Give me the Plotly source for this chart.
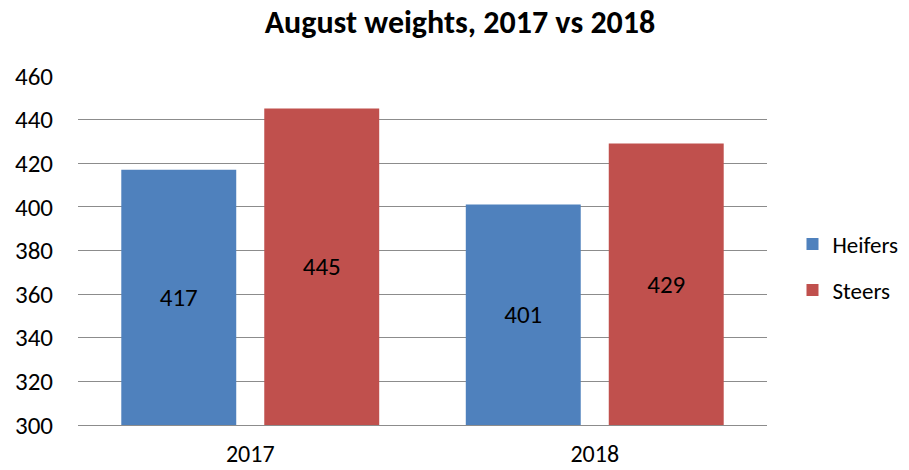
import plotly.graph_objects as go

years = ["2017", "2018"]
heifers = [417, 401]
steers = [445, 429]
y_ticks = [300, 320, 340, 360, 380, 400, 420, 440, 460]
axis_min = 300

font_family = "Carlito, Calibri, Lato, sans-serif"
fs = 25

fig = go.Figure()
for name, vals, color, grp in [("Heifers", heifers, "#4F81BD", "a"),
                               ("Steers", steers, "#C0504D", "b")]:
    fig.add_trace(go.Bar(
        x=years, y=[v - axis_min for v in vals], base=axis_min, name=name,
        marker_color=color, marker_line_width=0,
        text=[str(v) for v in vals], textposition="inside",
        insidetextanchor="middle",
        textfont=dict(color="black", size=fs, family=font_family),
        legendgroup=grp, hoverinfo="skip",
    ))

fig.update_layout(
    width=909, height=470,
    paper_bgcolor="white", plot_bgcolor="white",
    margin=dict(l=78, r=142, t=75, b=45, autoexpand=False),
    title=dict(text="<b>August weights, 2017 vs 2018</b>", x=0.506, xanchor="center",
               y=0.953, yanchor="middle",
               font=dict(size=32, color="black", family=font_family)),
    font=dict(family=font_family, size=fs, color="black"),
    barmode="group", bargap=0.17, bargroupgap=0.196,
    showlegend=True,
    legend=dict(x=1.037, y=0.451, xanchor="left", yanchor="middle",
                font=dict(size=23, color="black", family=font_family),
                tracegroupgap=13, bgcolor="rgba(0,0,0,0)"),
)
fig.update_yaxes(range=[300, 460.4], tickvals=y_ticks, showgrid=True,
                 gridcolor="#8c8c8c", gridwidth=1, zeroline=False, showline=False,
                 ticks="", ticklabelstandoff=24, automargin=False,
                 tickfont=dict(size=fs, color="black", family=font_family))
fig.update_xaxes(showgrid=False, showline=True, linecolor="#8c8c8c", linewidth=1,
                 ticks="", tickfont=dict(size=24, color="black", family=font_family),
                 ticklabelstandoff=7, automargin=False)

fig.write_html(
    "out.html",
    config={"displayModeBar": False},
    post_script="document.body.style.margin='0';document.body.style.overflow='hidden';",
)
